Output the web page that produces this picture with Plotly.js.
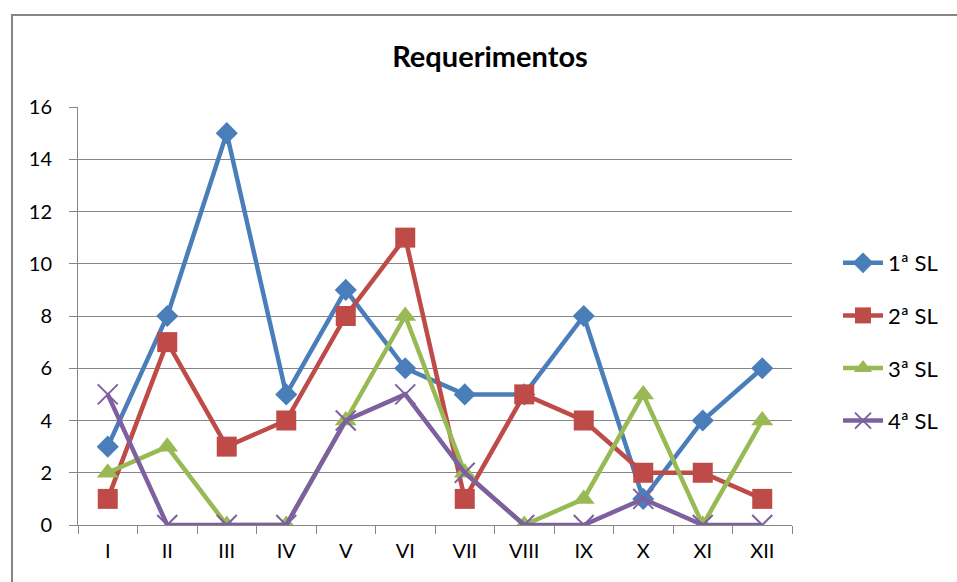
<!DOCTYPE html>
<html>
<head>
<meta charset="utf-8">
<script src="https://cdn.plot.ly/plotly-3.0.1.min.js"></script>
<style>html,body{margin:0;padding:0;background:#fff;}#chart{width:957px;height:582px;}</style>
</head>
<body>
<div id="chart"></div>
<script>
const categories = ["I","II","III","IV","V","VI","VII","VIII","IX","X","XI","XII"];
const seriesNames = ["1ª SL","2ª SL","3ª SL","4ª SL"];
const sl1 = [3,8,15,5,9,6,5,5,8,1,4,6];
const sl2 = [1,7,3,4,8,11,1,5,4,2,2,1];
const sl3 = [2,3,0,0,4,8,2,0,1,5,0,4];
const sl4 = [5,0,0,0,4,5,2,0,0,1,0,0];
const yTicks = [0,2,4,6,8,10,12,14,16];

const colors = ["#4a7ebb","#be4b48","#98b954","#7d60a0"];
const FONT = "Lato, 'Noto Sans', sans-serif";

function tr(y, i, symbol, size, extra) {
  return {
    x: categories, y: y, name: seriesNames[i], type: "scatter", mode: "lines+markers",
    legendgroup: "g" + i,
    line: {color: colors[i], width: 4.5},
    marker: Object.assign({symbol: symbol, size: size, color: colors[i]}, extra || {})
  };
}
const data = [
  tr(sl1, 0, "diamond", 17),
  tr(sl2, 1, "square", 20),
  tr(sl3, 2, "triangle-up", 19),
  tr(sl4, 3, "x-thin", 20, {line: {color: colors[3], width: 2}})
];

const layout = {
  width: 957, height: 582,
  margin: {l: 78, r: 165, t: 107, b: 57},
  paper_bgcolor: "#fff", plot_bgcolor: "#fff",
  showlegend: true,
  title: {text: "<b>Requerimentos</b>", font: {family: FONT, size: 29, color: "#000"},
          x: 490/957, xref: "container", xanchor: "center", y: 1 - 57/582, yref: "container", yanchor: "middle"},
  font: {family: FONT, size: 20, color: "#000"},
  xaxis: {
    type: "category", tickvals: categories, ticktext: categories,
    tickson: "boundaries", ticks: "outside", ticklen: 8, tickcolor: "#868686",
    showline: true, linecolor: "#868686", linewidth: 1, showgrid: false, zeroline: false,
    ticklabelstandoff: 8,
    tickfont: {family: FONT, size: 20, color: "#000"}, range: [-0.5, 11.5]
  },
  yaxis: {
    range: [0, 16], tickvals: yTicks, ticks: "outside", ticklen: 8, tickcolor: "#868686",
    showline: true, linecolor: "#868686", linewidth: 1,
    showgrid: true, gridcolor: "#868686", gridwidth: 1, zeroline: false,
    ticklabelstandoff: 13,
    tickfont: {family: FONT, size: 20, color: "#000"}
  },
  legend: {
    x: 838/957, xref: "container", xanchor: "left", y: 1 - 242/582, yref: "container", yanchor: "top",
    font: {family: FONT, size: 22, color: "#000"},
    tracegroupgap: 21, itemwidth: 40, bgcolor: "rgba(0,0,0,0)"
  },
  shapes: [{
    type: "rect", xref: "paper", yref: "paper",
    x0: (12-78)/714, x1: 1.5, y0: -0.5, y1: (525-15)/418,
    line: {color: "#868686", width: 2}, fillcolor: "rgba(0,0,0,0)", layer: "below"
  }]
};

Plotly.newPlot("chart", data, layout, {displayModeBar: false, staticPlot: true});
</script>
</body>
</html>
